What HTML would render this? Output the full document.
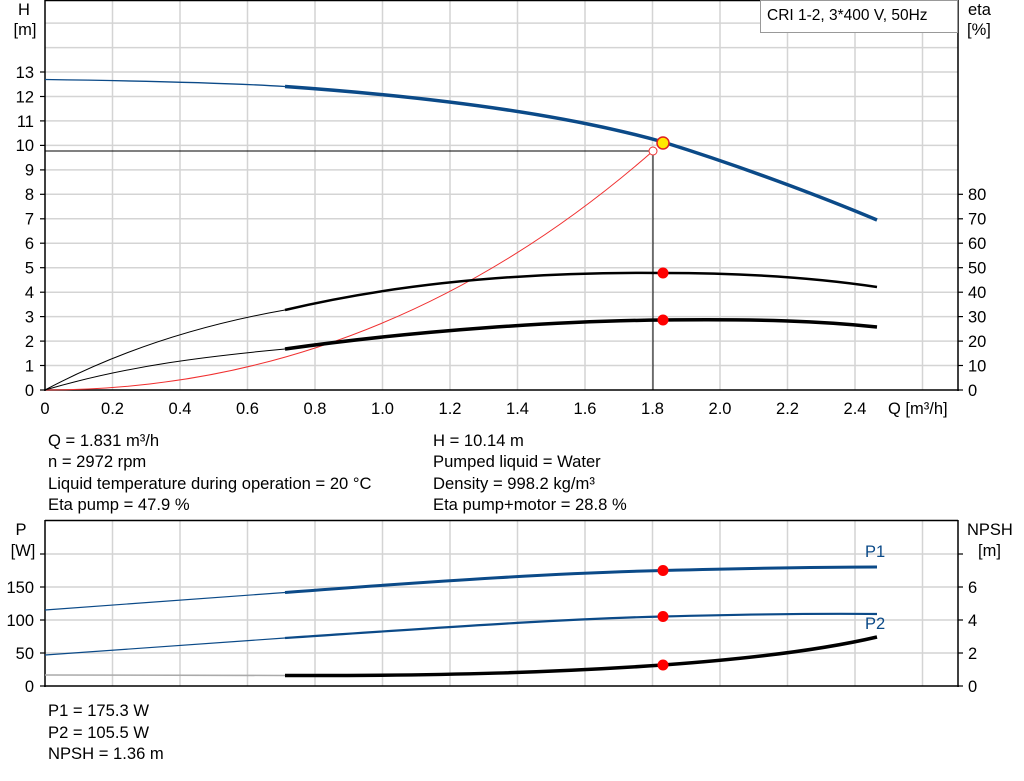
<!DOCTYPE html>
<html><head><meta charset="utf-8"><style>
html,body{margin:0;padding:0;background:#fff}
svg{display:block;font-family:"Liberation Sans",sans-serif}
</style></head><body>
<svg width="1024" height="781" viewBox="0 0 1024 781" xmlns="http://www.w3.org/2000/svg">
<rect width="1024" height="781" fill="#fff"/>
<g stroke="#d4d4d4" stroke-width="1.5">
<line x1="112.5" y1="0" x2="112.5" y2="390"/><line x1="180" y1="0" x2="180" y2="390"/>
<line x1="247.5" y1="0" x2="247.5" y2="390"/><line x1="315" y1="0" x2="315" y2="390"/>
<line x1="382.5" y1="0" x2="382.5" y2="390"/><line x1="450" y1="0" x2="450" y2="390"/>
<line x1="517.5" y1="0" x2="517.5" y2="390"/><line x1="585" y1="0" x2="585" y2="390"/>
<line x1="652.5" y1="0" x2="652.5" y2="390"/><line x1="720" y1="0" x2="720" y2="390"/>
<line x1="787.5" y1="0" x2="787.5" y2="390"/><line x1="855" y1="0" x2="855" y2="390"/>
<line x1="922.5" y1="0" x2="922.5" y2="390"/>
<line x1="45" y1="365.5" x2="958" y2="365.5"/><line x1="45" y1="341.1" x2="958" y2="341.1"/>
<line x1="45" y1="316.6" x2="958" y2="316.6"/><line x1="45" y1="292.2" x2="958" y2="292.2"/>
<line x1="45" y1="267.7" x2="958" y2="267.7"/><line x1="45" y1="243.2" x2="958" y2="243.2"/>
<line x1="45" y1="218.8" x2="958" y2="218.8"/><line x1="45" y1="194.3" x2="958" y2="194.3"/>
<line x1="45" y1="169.9" x2="958" y2="169.9"/><line x1="45" y1="145.4" x2="958" y2="145.4"/>
<line x1="45" y1="120.9" x2="958" y2="120.9"/><line x1="45" y1="96.5" x2="958" y2="96.5"/>
<line x1="45" y1="72" x2="958" y2="72"/><line x1="45" y1="47.6" x2="958" y2="47.6"/>
<line x1="45" y1="23.1" x2="958" y2="23.1"/>
</g>
<g stroke="#000" stroke-width="1.5" fill="none">
<line x1="45" y1="0" x2="45" y2="391"/><line x1="958" y1="0" x2="958" y2="391"/>
<line x1="44" y1="390" x2="959" y2="390"/><line x1="45" y1="0.5" x2="958" y2="0.5"/>
</g>
<g stroke="#000" stroke-width="1.2">
<line x1="40" y1="390" x2="45" y2="390"/><line x1="40" y1="365.5" x2="45" y2="365.5"/><line x1="40" y1="341.1" x2="45" y2="341.1"/><line x1="40" y1="316.6" x2="45" y2="316.6"/><line x1="40" y1="292.2" x2="45" y2="292.2"/><line x1="40" y1="267.7" x2="45" y2="267.7"/><line x1="40" y1="243.2" x2="45" y2="243.2"/><line x1="40" y1="218.8" x2="45" y2="218.8"/><line x1="40" y1="194.3" x2="45" y2="194.3"/><line x1="40" y1="169.9" x2="45" y2="169.9"/><line x1="40" y1="145.4" x2="45" y2="145.4"/><line x1="40" y1="120.9" x2="45" y2="120.9"/><line x1="40" y1="96.5" x2="45" y2="96.5"/><line x1="40" y1="72" x2="45" y2="72"/>
<line x1="958" y1="390" x2="963" y2="390"/><line x1="958" y1="365.5" x2="963" y2="365.5"/><line x1="958" y1="341.1" x2="963" y2="341.1"/><line x1="958" y1="316.6" x2="963" y2="316.6"/><line x1="958" y1="292.2" x2="963" y2="292.2"/><line x1="958" y1="267.7" x2="963" y2="267.7"/><line x1="958" y1="243.2" x2="963" y2="243.2"/><line x1="958" y1="218.8" x2="963" y2="218.8"/><line x1="958" y1="194.3" x2="963" y2="194.3"/>
</g>
<g font-size="16.5" fill="#000">
<g text-anchor="end">
<text x="34" y="396">0</text><text x="34" y="371.5">1</text><text x="34" y="347">2</text><text x="34" y="322.5">3</text><text x="34" y="298">4</text><text x="34" y="273.5">5</text><text x="34" y="249">6</text><text x="34" y="224.5">7</text><text x="34" y="200">8</text><text x="34" y="175.5">9</text><text x="34" y="151">10</text><text x="34" y="127">11</text><text x="34" y="102.5">12</text><text x="34" y="78">13</text>
</g>
<text x="24" y="15" text-anchor="middle">H</text><text x="25" y="35" text-anchor="middle">[m]</text>
<text x="968" y="396">0</text><text x="968" y="371.5">10</text><text x="968" y="347">20</text><text x="968" y="322.5">30</text><text x="968" y="298">40</text><text x="968" y="273.5">50</text><text x="968" y="249">60</text><text x="968" y="224.5">70</text><text x="968" y="200">80</text>
<text x="968" y="15">eta</text><text x="967" y="35">[%]</text>
<g text-anchor="middle">
<text x="45" y="414">0</text><text x="112.5" y="414">0.2</text><text x="180" y="414">0.4</text><text x="247.5" y="414">0.6</text><text x="315" y="414">0.8</text><text x="382.5" y="414">1.0</text><text x="450" y="414">1.2</text><text x="517.5" y="414">1.4</text><text x="585" y="414">1.6</text><text x="652.5" y="414">1.8</text><text x="720" y="414">2.0</text><text x="787.5" y="414">2.2</text><text x="855" y="414">2.4</text>
</g>
<text x="888" y="414">Q [m³/h]</text>
</g>
<rect x="760.5" y="0.5" width="197" height="32" fill="#fff" stroke="#999"/>
<text x="767" y="20" font-size="15.5">CRI 1-2, 3*400 V, 50Hz</text>
<line x1="45" y1="151" x2="653" y2="151" stroke="#000" stroke-width="1"/>
<line x1="653" y1="151" x2="653" y2="390" stroke="#000" stroke-width="1"/>
<path d="M45,390 Q380,390 653,151" fill="none" stroke="#f03030" stroke-width="1"/>
<path d="M45,79.5 C150,81 230,83 285,86.5" fill="none" stroke="#0b4a88" stroke-width="1.3"/>
<path d="M285,86.5 C420,96 560,113 663,142 C740,166 820,196 877,220" fill="none" stroke="#0b4a88" stroke-width="3.5"/>
<path d="M45,390 C120,350 200,325 285,310" fill="none" stroke="#000" stroke-width="1"/>
<path d="M285,310 C420,278 560,272 663,273 C760,273 830,280 877,287" fill="none" stroke="#000" stroke-width="2.5"/>
<path d="M45,390 C130,365 210,356 285,349" fill="none" stroke="#000" stroke-width="1"/>
<path d="M285,349 C420,330 560,321 663,320 C760,319 820,321 877,327" fill="none" stroke="#000" stroke-width="3.5"/>
<circle cx="653" cy="151" r="4" fill="#fff" stroke="#f03030" stroke-width="1"/>
<circle cx="663" cy="273" r="5.5" fill="#f00"/>
<circle cx="663" cy="320" r="5.5" fill="#f00"/>
<circle cx="663" cy="143" r="6" fill="#ffe800" stroke="#e02020" stroke-width="1.5"/>
<g font-size="16.6" fill="#000">
<text x="48" y="446">Q = 1.831 m³/h</text><text x="48" y="467">n = 2972 rpm</text>
<text x="48" y="489">Liquid temperature during operation = 20 °C</text><text x="48" y="510">Eta pump = 47.9 %</text>
<text x="433" y="446">H = 10.14 m</text><text x="433" y="467">Pumped liquid = Water</text>
<text x="433" y="489">Density = 998.2 kg/m³</text><text x="433" y="510">Eta pump+motor = 28.8 %</text>
<text x="48" y="716">P1 = 175.3 W</text><text x="48" y="738">P2 = 105.5 W</text><text x="48" y="759">NPSH = 1.36 m</text>
</g>
<g stroke="#d4d4d4" stroke-width="1.5">
<line x1="112.5" y1="520" x2="112.5" y2="686"/><line x1="180" y1="520" x2="180" y2="686"/>
<line x1="247.5" y1="520" x2="247.5" y2="686"/><line x1="315" y1="520" x2="315" y2="686"/>
<line x1="382.5" y1="520" x2="382.5" y2="686"/><line x1="450" y1="520" x2="450" y2="686"/>
<line x1="517.5" y1="520" x2="517.5" y2="686"/><line x1="585" y1="520" x2="585" y2="686"/>
<line x1="652.5" y1="520" x2="652.5" y2="686"/><line x1="720" y1="520" x2="720" y2="686"/>
<line x1="787.5" y1="520" x2="787.5" y2="686"/><line x1="855" y1="520" x2="855" y2="686"/>
<line x1="922.5" y1="520" x2="922.5" y2="686"/>
<line x1="45" y1="653" x2="958" y2="653"/><line x1="45" y1="620" x2="958" y2="620"/>
<line x1="45" y1="587" x2="958" y2="587"/><line x1="45" y1="554" x2="958" y2="554"/>
</g>
<g stroke="#000" stroke-width="1.5">
<line x1="45" y1="520" x2="45" y2="687"/><line x1="958" y1="520" x2="958" y2="687"/>
<line x1="44" y1="686" x2="959" y2="686"/><line x1="45" y1="520.5" x2="958" y2="520.5"/>
</g>
<g stroke="#000" stroke-width="1.2">
<line x1="40" y1="686" x2="45" y2="686"/><line x1="40" y1="653" x2="45" y2="653"/><line x1="40" y1="620" x2="45" y2="620"/><line x1="40" y1="587" x2="45" y2="587"/><line x1="40" y1="554" x2="45" y2="554"/>
<line x1="958" y1="686" x2="963" y2="686"/><line x1="958" y1="653" x2="963" y2="653"/><line x1="958" y1="620" x2="963" y2="620"/><line x1="958" y1="587" x2="963" y2="587"/><line x1="958" y1="554" x2="963" y2="554"/>
</g>
<g font-size="16.5" fill="#000">
<g text-anchor="end"><text x="34" y="692">0</text><text x="34" y="659">50</text><text x="34" y="626">100</text><text x="34" y="593">150</text></g>
<text x="21" y="535" text-anchor="middle">P</text><text x="23" y="556" text-anchor="middle">[W]</text>
<text x="968" y="692">0</text><text x="968" y="659">2</text><text x="968" y="626">4</text><text x="968" y="593">6</text>
<text x="967" y="535">NPSH</text><text x="978" y="556">[m]</text>
</g>
<path d="M45,610 L285,592.5" fill="none" stroke="#0b4a88" stroke-width="1.2"/>
<path d="M285,592.5 C450,580 560,573 663,570.5 C760,568 830,567 877,567" fill="none" stroke="#0b4a88" stroke-width="3"/>
<path d="M45,655 L285,638" fill="none" stroke="#0b4a88" stroke-width="1.2"/>
<path d="M285,638 C450,627 560,619 663,616.5 C760,614 830,613.5 877,614" fill="none" stroke="#0b4a88" stroke-width="2.2"/>
<line x1="45" y1="675" x2="285" y2="675.5" stroke="#aaa" stroke-width="1.5"/>
<path d="M285,675.5 C450,676 560,672 663,665 C760,658 830,648 877,637" fill="none" stroke="#000" stroke-width="3.5"/>
<circle cx="663" cy="570.5" r="5.5" fill="#f00"/>
<circle cx="663" cy="616.5" r="5.5" fill="#f00"/>
<circle cx="663" cy="665" r="5.5" fill="#f00"/>
<text x="865" y="557" font-size="16.5" fill="#0b4a88">P1</text>
<text x="865" y="629" font-size="16.5" fill="#0b4a88">P2</text>
</svg>
</body></html>
